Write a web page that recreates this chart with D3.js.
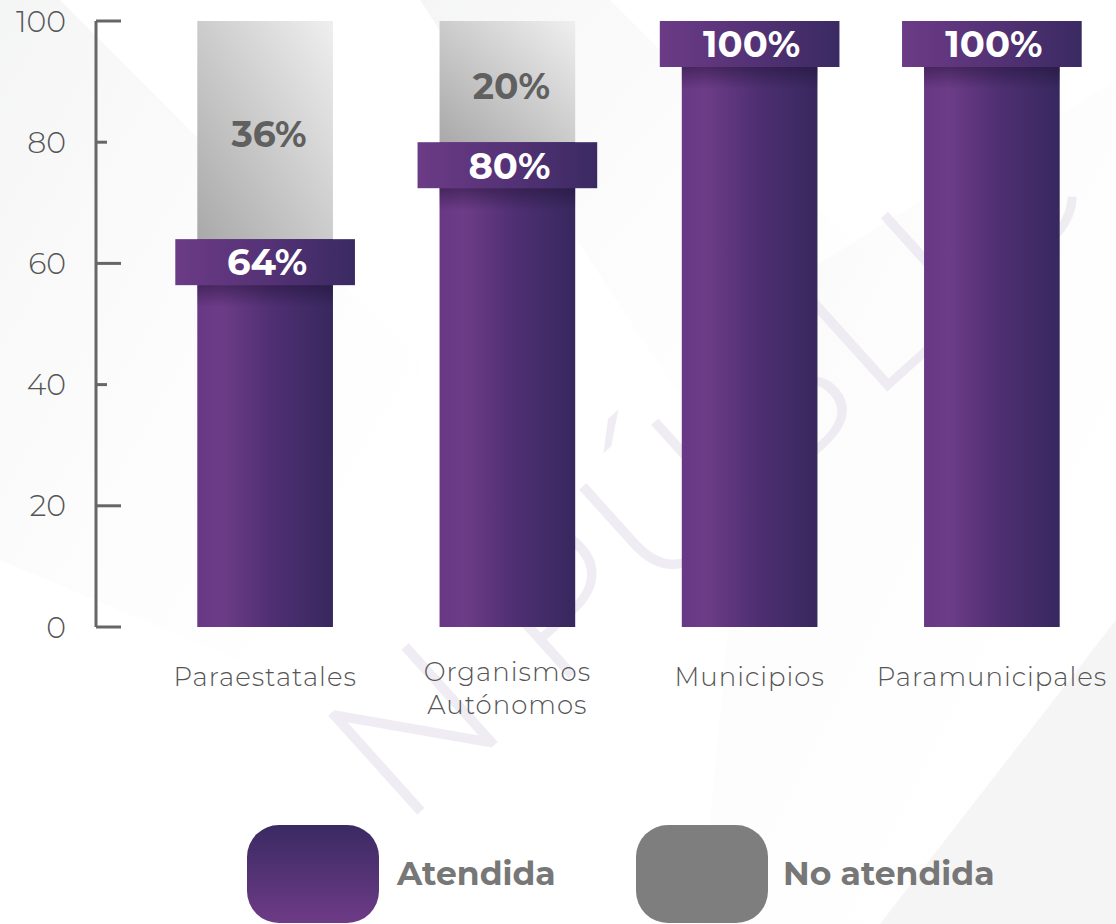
<!DOCTYPE html>
<html>
<head>
<meta charset="utf-8">
<script src="https://cdn.jsdelivr.net/npm/d3@7"></script>
<style>
  html, body { margin: 0; padding: 0; background: #fff; }
  svg { display: block; }
  text { font-family: Montserrat, "Noto Sans", sans-serif; }
</style>
</head>
<body>
<svg id="chart" width="1116" height="924"></svg>
<script>
// data
const categories = [["Paraestatales"], ["Organismos", "Autónomos"], ["Municipios"], ["Paramunicipales"]];
const atendida = [64, 80, 100, 100];
const noAtendida = [36, 20, 0, 0];
const yTicks = [0, 20, 40, 60, 80, 100];
const legendLabels = ["Atendida", "No atendida"];

const svg = d3.select("#chart");
const defs = svg.append("defs");

const x = d3.scaleBand()
  .domain(categories.map(d => d.join(" ")))
  .range([144, 1113])
  .paddingInner(0.44)
  .paddingOuter(0.22);
const y = d3.scaleLinear().domain([0, 100]).range([627, 21]);

// gradients
function linGrad(id, x1, y1, x2, y2, stops) {
  const g = defs.append("linearGradient").attr("id", id)
    .attr("x1", x1).attr("y1", y1).attr("x2", x2).attr("y2", y2);
  stops.forEach(s => g.append("stop").attr("offset", s[0]).attr("stop-color", s[1]).attr("stop-opacity", s[2] == null ? 1 : s[2]));
}
linGrad("barPurple", 0, 0, 1, 0, [[0, "#683884"], [0.18, "#6d3c88"], [0.55, "#4f2f72"], [1, "#37285e"]]);
linGrad("boxPurple", 0, 0, 1, 0, [[0, "#6c3b86"], [0.5, "#553276"], [1, "#3a2a62"]]);
linGrad("barGray", 1, 0, 0, 1, [[0, "#efefef"], [1, "#a9a9aa"]]);
linGrad("shadowDown", 0, 0, 0, 1, [[0, "#1c1030", 0.45], [1, "#1c1030", 0]]);
linGrad("legendPurple", 0, 0, 0, 1, [[0, "#3a2a62"], [1, "#6e3b87"]]);
linGrad("bgBand", 0, 0, 1, 1, [[0, "#e9eaeb", 0.9], [1, "#ffffff", 0]]);

// faint background
const bg = svg.append("g").attr("class", "bg");
bg.append("path").attr("d", "M0,0 L60,0 L420,360 L380,720 L0,560 Z").attr("fill", "url(#bgBand)").attr("opacity", 0.55);
bg.append("path").attr("d", "M420,0 L610,0 L880,270 L760,520 Z").attr("fill", "url(#bgBand)").attr("opacity", 0.5);
bg.append("path").attr("d", "M760,300 L1116,80 L1116,620 L900,924 L700,924 Z").attr("fill", "url(#bgBand)").attr("opacity", 0.35);
bg.append("path").attr("d", "M1116,620 L1116,924 L880,924 Z").attr("fill", "#eeeff0").attr("opacity", 0.6);
bg.append("text")
  .attr("transform", "translate(400,830) rotate(-42)")
  .attr("font-size", 190)
  .attr("font-weight", 300)
  .attr("fill", "#ebe6ef")
  .attr("opacity", 0.75)
  .text("N PÚBLIC");

// y axis
const axis = svg.append("g").attr("class", "y-axis");
axis.append("line")
  .attr("x1", 96).attr("x2", 96)
  .attr("y1", y(100)).attr("y2", y(0))
  .attr("stroke", "#666").attr("stroke-width", 3);
axis.selectAll(".tick").data(yTicks).join("line")
  .attr("x1", 96)
  .attr("x2", d => (d === 80 || d === 40) ? 107 : 121)
  .attr("y1", d => y(d)).attr("y2", d => y(d))
  .attr("stroke", "#666").attr("stroke-width", 3);
axis.selectAll(".tlabel").data(yTicks).join("text")
  .attr("x", 66)
  .attr("y", d => y(d))
  .attr("dy", "0.35em")
  .attr("text-anchor", "end")
  .attr("font-size", 30)
  .attr("font-weight", 300)
  .attr("fill", "#555")
  .text(d => d);

// bars
const bw = x.bandwidth();
const rows = categories.map((c, i) => ({ key: c.join(" "), lines: c, a: atendida[i], n: noAtendida[i] }));
const bars = svg.append("g").selectAll("g").data(rows).join("g");

bars.filter(d => d.n > 0).append("rect")
  .attr("x", d => x(d.key))
  .attr("y", d => y(d.a + d.n))
  .attr("width", bw)
  .attr("height", d => y(d.a) - y(d.a + d.n))
  .attr("fill", "url(#barGray)");

bars.append("rect")
  .attr("x", d => x(d.key))
  .attr("y", d => y(d.a))
  .attr("width", bw)
  .attr("height", d => y(0) - y(d.a))
  .attr("fill", "url(#barPurple)");

// shadow under the value box
bars.append("rect")
  .attr("x", d => x(d.key))
  .attr("y", d => y(d.a) + 46)
  .attr("width", bw)
  .attr("height", 22)
  .attr("fill", "url(#shadowDown)");

// value box
const pad = 22;
bars.append("rect")
  .attr("x", d => x(d.key) - pad)
  .attr("y", d => y(d.a))
  .attr("width", bw + pad * 2)
  .attr("height", 46)
  .attr("fill", "url(#boxPurple)");

bars.append("text")
  .attr("x", d => x(d.key) + bw / 2 + 2)
  .attr("y", d => y(d.a) + 23)
  .attr("dy", "0.36em")
  .attr("text-anchor", "middle")
  .attr("font-size", 37)
  .attr("font-weight", 700)
  .attr("fill", "#fff")
  .text(d => d.a + "%");

bars.filter(d => d.n > 0).append("text")
  .attr("x", d => x(d.key) + bw / 2 + 4)
  .attr("y", d => (y(d.a + d.n) + y(d.a)) / 2 + 4)
  .attr("dy", "0.36em")
  .attr("text-anchor", "middle")
  .attr("font-size", 36)
  .attr("font-weight", 700)
  .attr("fill", "#606060")
  .text(d => d.n + "%");

// category labels
bars.append("text")
  .attr("x", d => x(d.key) + bw / 2)
  .attr("y", d => d.lines.length > 1 ? 672 : 677)
  .attr("text-anchor", "middle")
  .attr("font-size", 26)
  .attr("font-weight", 300)
  .attr("letter-spacing", 1)
  .attr("fill", "#555")
  .selectAll("tspan").data(d => d.lines).join("tspan")
  .attr("x", function() { return d3.select(this.parentNode).attr("x"); })
  .attr("dy", (d, i) => i === 0 ? "0.35em" : "1.25em")
  .text(d => d);

// legend
const legend = svg.append("g").attr("class", "legend");
const legendItems = [
  { label: legendLabels[0], fill: "url(#legendPurple)", x: 247, tx: 397 },
  { label: legendLabels[1], fill: "#7e7e7f", x: 636, tx: 783 }
];
legend.selectAll("rect").data(legendItems).join("rect")
  .attr("x", d => d.x).attr("y", 825)
  .attr("width", 132).attr("height", 98)
  .attr("rx", 32).attr("ry", 32)
  .attr("fill", d => d.fill);
legend.selectAll("text").data(legendItems).join("text")
  .attr("x", d => d.tx).attr("y", 873)
  .attr("dy", "0.35em")
  .attr("font-size", 33)
  .attr("font-weight", 700)
  .attr("fill", "#777")
  .text(d => d.label);
</script>
</body>
</html>
